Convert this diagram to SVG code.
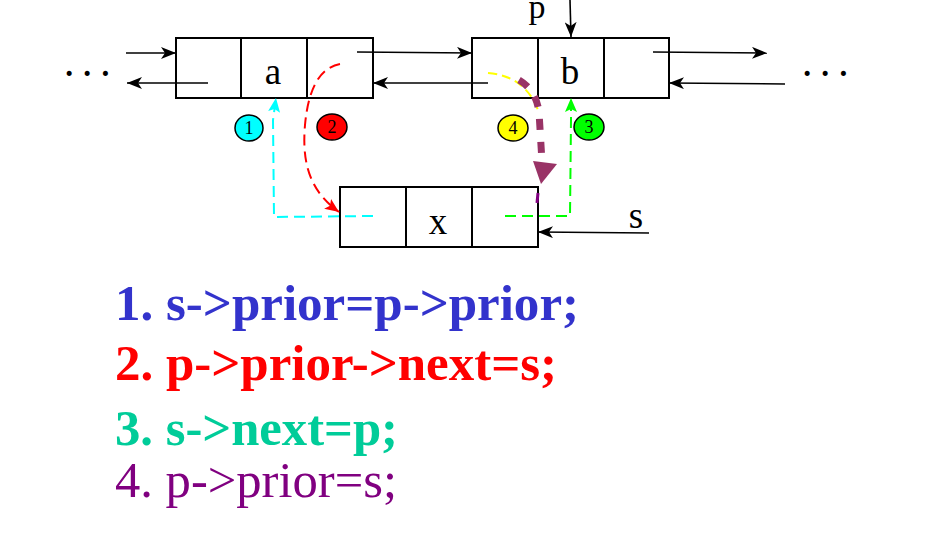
<svg xmlns="http://www.w3.org/2000/svg" width="950" height="551" viewBox="0 0 950 551">
<style>
.box{fill:none;stroke:#000;stroke-width:2}
.ln{stroke:#000;stroke-width:1.6;fill:none}
.lbl{font-family:"Liberation Serif",serif;font-size:37px;fill:#000}
.num{font-family:"Liberation Serif",serif;font-size:18px;fill:#000;text-anchor:middle}
.dot{font-family:"Liberation Serif",serif;font-size:31px;font-weight:bold;fill:#000}
.code{font-family:"Liberation Serif",serif;font-size:50px}
.dash{fill:none;stroke-width:2;stroke-dasharray:11 6}
</style>
<defs>
<marker id="ak" markerUnits="userSpaceOnUse" markerWidth="16" markerHeight="12" refX="15" refY="6" orient="auto"><path d="M0,0 L15,6 L0,12 L4,6 Z" fill="#000"/></marker>
<marker id="ac" markerUnits="userSpaceOnUse" markerWidth="16" markerHeight="12" refX="14" refY="6" orient="auto"><path d="M0,0 L14,6 L0,12 L3,6 Z" fill="#00FFFF"/></marker>
<marker id="ar" markerUnits="userSpaceOnUse" markerWidth="16" markerHeight="12" refX="14" refY="6" orient="auto"><path d="M0,0 L14,6 L0,12 L3,6 Z" fill="#FF0000"/></marker>
<marker id="ag" markerUnits="userSpaceOnUse" markerWidth="16" markerHeight="12" refX="14" refY="6" orient="auto"><path d="M0,0 L14,6 L0,12 L3,6 Z" fill="#00FF00"/></marker>
</defs>

<text class="dot" x="64" y="84">· · ·</text>
<text class="dot" x="802" y="84">· · ·</text>

<g id="node-a">
<rect class="box" x="176" y="38" width="197" height="60"/>
<line class="box" x1="241" y1="38" x2="241" y2="98"/>
<line class="box" x1="307" y1="38" x2="307" y2="98"/>
<text class="lbl" x="273" y="84" text-anchor="middle">a</text>
</g>
<g id="node-b">
<rect class="box" x="472" y="38" width="197" height="60"/>
<line class="box" x1="538" y1="38" x2="538" y2="98"/>
<line class="box" x1="604" y1="38" x2="604" y2="98"/>
<text class="lbl" x="570" y="84" text-anchor="middle">b</text>
</g>
<g id="node-x">
<rect class="box" x="340" y="187" width="198" height="60"/>
<line class="box" x1="406" y1="187" x2="406" y2="247"/>
<line class="box" x1="472" y1="187" x2="472" y2="247"/>
<text class="lbl" x="438" y="234" text-anchor="middle">x</text>
</g>
<g id="label-p"><text class="lbl" x="537" y="18" text-anchor="middle" style="font-size:34px">p</text></g>
<g id="label-s"><text class="lbl" x="636" y="228" text-anchor="middle">s</text></g>

<g id="badges">
<ellipse cx="249" cy="128" rx="14" ry="13" fill="#00FFFF" stroke="#000" stroke-width="1.5"/>
<text class="num" x="249" y="134">1</text>
<ellipse cx="332" cy="127" rx="15" ry="13" fill="#FF0000" stroke="#000" stroke-width="1.5"/>
<text class="num" x="332" y="133">2</text>
<ellipse cx="513" cy="128" rx="15" ry="13" fill="#FFFF00" stroke="#000" stroke-width="1.5"/>
<text class="num" x="513" y="134">4</text>
<ellipse cx="589" cy="127" rx="15" ry="13" fill="#00FF00" stroke="#000" stroke-width="1.5"/>
<text class="num" x="589" y="133">3</text>
</g>

<g id="connectors">
<line class="ln" x1="126" y1="53" x2="176" y2="53" marker-end="url(#ak)"/>
<line class="ln" x1="208" y1="83" x2="127" y2="83" marker-end="url(#ak)"/>
<line class="ln" x1="357" y1="52" x2="472" y2="53" marker-end="url(#ak)"/>
<line class="ln" x1="488" y1="83" x2="373" y2="83" marker-end="url(#ak)"/>
<line class="ln" x1="653" y1="52" x2="767" y2="53" marker-end="url(#ak)"/>
<line class="ln" x1="785" y1="84" x2="669" y2="83" marker-end="url(#ak)"/>
<line class="ln" x1="570" y1="0" x2="571" y2="37" marker-end="url(#ak)"/>
<line class="ln" x1="649" y1="233" x2="538" y2="232" marker-end="url(#ak)"/>

<path class="dash" stroke="#00FFFF" d="M373,216 L274,217 L273,120 L276,98" marker-end="url(#ac)"/>
<path class="dash" stroke="#FF0000" d="M340,64 C318,68 308,92 305,125 C302,160 308,190 339,212" marker-end="url(#ar)"/>
<path class="dash" stroke="#00FF00" d="M505,216 L570,216 L571,120 L571,98" marker-end="url(#ag)"/>
<path fill="none" stroke="#FFFF00" stroke-width="2" stroke-dasharray="9 5" d="M488,73 Q525,76 538,110"/>
<path fill="none" stroke="#993366" stroke-width="7" stroke-dasharray="11 12" d="M519,80 Q536,90 539,112 L542,162"/>
<polygon points="533,161 557,164 541,184" fill="#993366"/>
<line x1="538" y1="193" x2="537" y2="203" stroke="#800080" stroke-width="3"/>
</g>

<g id="code">
<text class="code" x="115" y="320" font-weight="bold" fill="#3333CC" textLength="464" lengthAdjust="spacingAndGlyphs">1. s-&gt;prior=p-&gt;prior;</text>
<text class="code" x="115" y="380" font-weight="bold" fill="#FF0000" textLength="442" lengthAdjust="spacingAndGlyphs">2. p-&gt;prior-&gt;next=s;</text>
<text class="code" x="115" y="445" font-weight="bold" fill="#00CC99" textLength="283" lengthAdjust="spacingAndGlyphs">3. s-&gt;next=p;</text>
<text class="code" x="115" y="497" fill="#800080" textLength="282" lengthAdjust="spacingAndGlyphs">4. p-&gt;prior=s;</text>
</g>
</svg>
